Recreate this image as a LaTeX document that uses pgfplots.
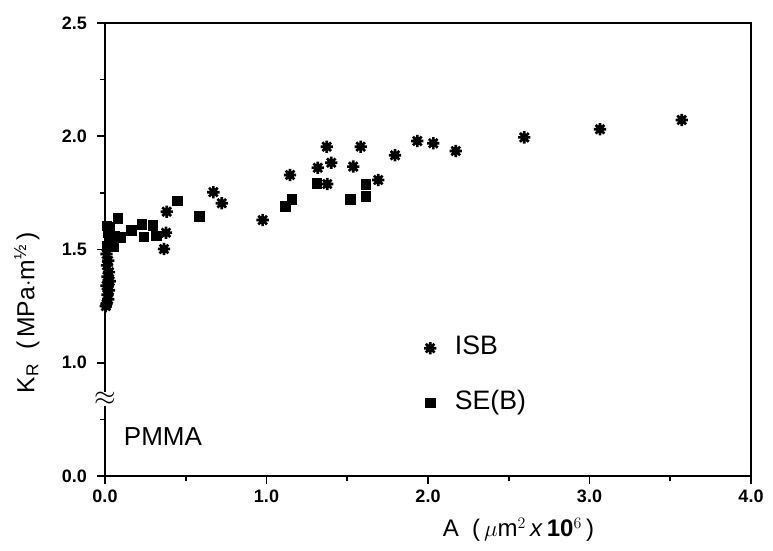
\documentclass[border=0pt]{standalone}
\usepackage{fontspec}
\setmainfont{Liberation Sans}
\usepackage{pgfplots}
\pgfplotsset{compat=1.18}
\pgfplotsset{leg/.style={legend image code/.code={\draw[##1] plot coordinates {(0cm,0cm)}; \path[draw=none,fill=none] (-0.2cm,0cm) -- (0.58cm,0cm);}}}
\pgfdeclareplotmark{isb}{%
  \pgfpathcircle{\pgfpointorigin}{0.68\pgfplotmarksize}%
  \pgfusepathqfill
  \pgfpathmoveto{\pgfqpoint{-\pgfplotmarksize}{0pt}}\pgfpathlineto{\pgfqpoint{\pgfplotmarksize}{0pt}}%
  \pgfpathmoveto{\pgfqpoint{0pt}{-\pgfplotmarksize}}\pgfpathlineto{\pgfqpoint{0pt}{\pgfplotmarksize}}%
  \pgfpathmoveto{\pgfqpoint{-0.7071\pgfplotmarksize}{-0.7071\pgfplotmarksize}}\pgfpathlineto{\pgfqpoint{0.7071\pgfplotmarksize}{0.7071\pgfplotmarksize}}%
  \pgfpathmoveto{\pgfqpoint{-0.7071\pgfplotmarksize}{0.7071\pgfplotmarksize}}\pgfpathlineto{\pgfqpoint{0.7071\pgfplotmarksize}{-0.7071\pgfplotmarksize}}%
  \pgfusepathqstroke
}
\pgfplotstableread{
x y
0.382 1.667
0.378 1.574
0.365 1.502
0.671 1.753
0.723 1.704
0.976 1.630
1.146 1.829
1.317 1.861
1.373 1.954
1.401 1.883
1.376 1.789
1.537 1.866
1.583 1.954
1.692 1.807
1.796 1.916
1.934 1.979
2.033 1.969
2.172 1.935
2.596 1.995
3.065 2.031
3.571 2.072
0.010 1.48
0.020 1.45
0.012 1.43
0.025 1.40
0.015 1.38
0.030 1.36
0.010 1.34
0.025 1.32
0.015 1.30
0.020 1.28
0.010 1.26
0.005 1.25
}\isbdata
\pgfplotstableread{
x y
0.448 1.715
0.584 1.648
1.115 1.692
1.156 1.722
1.311 1.792
1.517 1.722
1.614 1.789
1.614 1.736
0.079 1.638
0.161 1.586
0.227 1.611
0.295 1.608
0.241 1.557
0.316 1.561
0.093 1.554
0.051 1.512
0.010 1.605
0.020 1.575
0.035 1.545
0.015 1.515
0.060 1.560
0.030 1.600
}\sebdata
\begin{document}
\begin{tikzpicture}
\begin{axis}[
  scale only axis, width=484.5pt, height=339.75pt,
  xmin=0, xmax=4, ymin=0.5, ymax=2.5,
  xtick={0,1,2,3,4}, xticklabels={0.0,1.0,2.0,3.0,4.0},
  minor xtick={0.5,1.5,2.5,3.5},
  ytick={0.5,1,1.5,2,2.5}, yticklabels={0.0,1.0,1.5,2.0,2.5},
  minor ytick={0.75,1.25,1.75,2.25},
  tick align=outside, tick pos=left,
  major tick length=6pt, minor tick length=4pt,
  axis line style={line width=1.4pt},
  every tick/.style={line width=1.2pt, black},
  tick label style={font=\fontsize{13.5}{15}\selectfont\bfseries},
  xticklabel style={yshift=-1pt},
  yticklabel style={xshift=-4pt},
  clip=false,
  xlabel={A\ \ (\,$\mu$m$^{2}$\,\textit{x}\,\textbf{10}$^{6}$\,)},
  xlabel style={at={(rel axis cs:0.64,-0.082)}, anchor=north, font=\fontsize{18}{20}\selectfont},
  ylabel={K\textsubscript{R}\ \ (\,MPa$\cdot$m\textsuperscript{½}\,)},
  ylabel style={at={(rel axis cs:-0.094,0.36)}, anchor=south, font=\fontsize{18.5}{20}\selectfont},
  legend style={at={(rel axis cs:0.485,0.321)}, anchor=north west, draw=none, fill=none,
    font=\fontsize{20}{22}\selectfont, row sep=19pt,
    nodes={text height=14pt, text depth=4pt, inner sep=2pt}},
  legend cell align=left,
]
\addplot[only marks, mark=isb, mark size=4.6pt, black, line width=2pt, leg]
  table[x=x,y=y]{\isbdata};
\addlegendentry{ISB}
\addplot[only marks, mark=square*, mark size=3.6pt, black, leg]
  table[x=x,y=y]{\sebdata};
\addlegendentry{SE(B)}
\node[fill=white, inner sep=0.3pt] at (axis cs:0,0.84) {\fontsize{21}{21}\selectfont$\approx$};
\node[anchor=west, font=\fontsize{19.5}{20}\selectfont] at (rel axis cs:0.022,0.086) {PMMA};
\coordinate (sw) at (rel axis cs:0,0);
\coordinate (ne) at (rel axis cs:1,1);
\end{axis}
\pgfresetboundingbox
\path ([shift={(-78.75pt,-55.5pt)}]sw) rectangle ([shift={(16.5pt,17.25pt)}]ne);
\end{tikzpicture}
\end{document}
